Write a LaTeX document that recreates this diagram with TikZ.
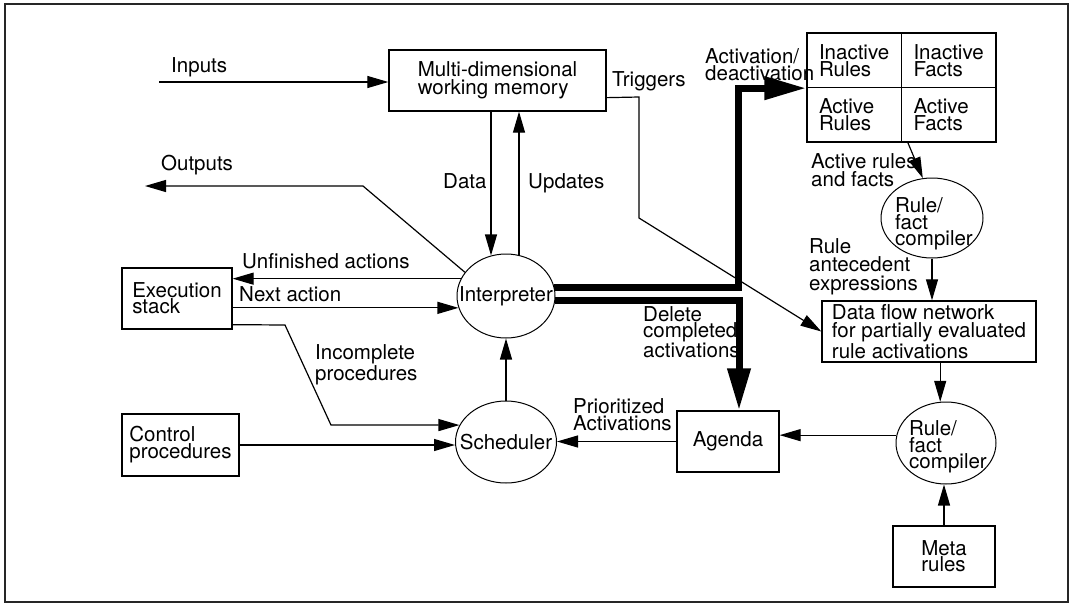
\documentclass[tikz,border=0pt]{standalone}
\usepackage{fontspec}
\setmainfont{TeX Gyre Heros}
\usetikzlibrary{arrows.meta,shapes.geometric,calc}

\begin{document}
\begin{tikzpicture}[x=1pt,y=-1pt,
  every node/.style={font=\fontsize{20.5}{17}\selectfont},
  box/.style={draw,line width=1.3pt,rectangle,inner sep=0pt,align=left},
  cell/.style={draw,line width=1.3pt,rectangle,minimum width=94.5pt,minimum height=54.5pt,
               inner xsep=12pt,inner ysep=0pt,text width=70.5pt,align=left},
  ell/.style={draw,ellipse,line width=1pt,inner sep=0pt},
  ltxt/.style={inner sep=0pt,align=left},
  lbl/.style={inner sep=0pt,anchor=base west,align=left},
  arr/.style={line width=1.2pt,-{Triangle[length=21pt,width=12pt]}},
  bigarr/.style={line width=7pt,-{Triangle[length=42pt,width=22pt]}},
]
\useasboundingbox (0,0) rectangle (1072,606);
\draw[line width=1.5pt,black!85] (5,4) rectangle (1068,602);

% ---- boxes ----
\node[box,minimum width=217pt,minimum height=61pt,font=\fontsize{20.5}{18}\selectfont]
  (mem) at (497.5,80.5) {Multi-dimensional\\working memory};
\node[box,minimum width=110pt,minimum height=61pt,font=\fontsize{20.5}{15}\selectfont]
  (exec) at (177,298.5) {Execution\\stack};
\node[box,minimum width=117pt,minimum height=62pt]
  (control) at (180.5,445) {Control\\procedures};
\node[box,minimum width=102pt,minimum height=61pt]
  (agenda) at (728,441.5) {Agenda};
\node[box,minimum width=214pt,minimum height=61pt,font=\fontsize{20.5}{18}\selectfont]
  (df) at (929,331.5) {Data flow network\\for partially evaluated\\rule activations};
\node[box,minimum width=102pt,minimum height=61pt,font=\fontsize{20.5}{16}\selectfont]
  (meta) at (944,556.5) {Meta\\rules};

% ---- rule / fact store ----
\node[cell] (ir) at (854.25,60.25) {Inactive\\Rules};
\node[cell] (if) at (948.75,60.25) {Inactive\\Facts};
\node[cell] (ar) at (854.25,114.75) {Active\\Rules};
\node[cell] (af) at (948.75,114.75) {Active\\Facts};

% ---- processes ----
\node[ell,minimum width=98pt,minimum height=84pt,
  label={[ltxt]center:Interpreter}] (interp) at (506,296) {};
\node[ell,minimum width=101pt,minimum height=82pt,
  label={[ltxt]center:Scheduler}] (sched) at (506,442) {};
\node[ell,minimum width=102pt,minimum height=80pt,
  label={[ltxt,font=\fontsize{20.5}{14.5}\selectfont,xshift=2pt,yshift=-6pt]center:Rule/\\fact\\compiler}]
  (rc1) at (932,218) {};
\node[ell,minimum width=100pt,minimum height=82pt,
  label={[ltxt,font=\fontsize{20.5}{15}\selectfont,xshift=2pt,yshift=-4pt]center:Rule/\\fact\\compiler}]
  (rc2) at (946,443) {};

% ---- free ends and bends ----
\coordinate (inA) at (159,82);
\coordinate (outB) at (363,186);
\coordinate (outT) at (145,186);
\coordinate (trA) at (639,97);
\coordinate (trB) at (639,218);
\coordinate (ipA) at (285,325);
\coordinate (ipB) at (331,425);
\coordinate (dtop) at ($(mem.south)+(-6.5,0)$);
\coordinate (utop) at ($(mem.south)+(21.5,0)$);

% ---- connectors ----
\draw[arr] (inA) -- (inA -| mem.west);
\draw[arr] (dtop) -- (dtop |- interp.110.6);
\draw[arr] (utop |- interp.72) -- (utop);
\draw[arr] (interp.150) -- (outB) -- (outT);
\draw[arr] (interp.159) -- (exec.east |- interp.159);
\draw[arr] (exec.east |- interp.194) -- (interp.194);
\draw[arr] ($(exec.south east)+(0,-5)$) -- (ipA) -- (ipB |- sched.160) -- (sched.160);
\draw[arr] (control.east) -- (control.east -| sched.west);
\draw[arr] (sched.north) -- (interp.south);
\draw[arr] (agenda.west) -- (agenda.west -| sched.east);
\draw[arr] (rc2.171) -- (agenda.east |- rc2.171);
\draw[arr] (df.south -| rc2.98) -- (rc2.98);
\draw[arr] (rc1.south) -- (rc1.south |- df.north);
\draw[arr] ($(af.south west)+(7,0)$) -- (rc1.103);
\draw[arr] (meta.north) -- (meta.north |- rc2.south);
\draw[arr] ($(mem.south east)+(0,-14)$) -- (trA) -- (trB) -- (df.west);
\draw[bigarr] (interp.10) -| ($(ir.south west)+(-68,0)$) -- (ir.south west);
\draw[bigarr] (interp.-5) -| ($(agenda.north)+(11,0)$);

% ---- connector labels (placed at the baseline of their last line) ----
\node[lbl] (lInputs) at (171,72) {Inputs};
\node[lbl] (lOutputs) at (161,170) {Outputs};
\node[lbl] (lTrig) at (612,86) {Triggers};
\node[lbl] (lAct) at (705,80) {Activation/\\deactivation};
\node[lbl] (lData) at (443,188) {Data};
\node[lbl] (lUpd) at (528,188) {Updates};
\node[lbl] (lUnf) at (242,268) {Unfinished actions};
\node[lbl] (lNext) at (239,301) {Next action};
\node[lbl] (lInc) at (315,380) {Incomplete\\procedures};
\node[lbl,font=\fontsize{20.5}{16}\selectfont] (lDel) at (643,357) {Delete\\completed\\activations};
\node[lbl] (lPri) at (573,430) {Prioritized\\Activations};
\node[lbl,font=\fontsize{20.5}{18}\selectfont] (lArf) at (811,186) {Active rules\\and facts};
\node[lbl,font=\fontsize{20.5}{18.5}\selectfont] (lAnt) at (809,290) {Rule\\antecedent\\expressions};
\end{tikzpicture}
\end{document}
